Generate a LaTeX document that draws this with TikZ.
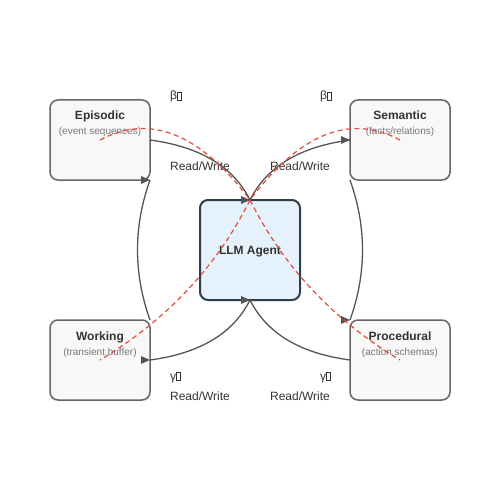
\documentclass[tikz,border=0pt]{standalone}
\usepackage{fontspec}
\setmainfont{Liberation Sans}
\usetikzlibrary{calc}
\definecolor{membd}{HTML}{666666}
\definecolor{memfill}{HTML}{F8F8F8}
\definecolor{agbd}{HTML}{2C3E50}
\definecolor{agfill}{HTML}{E6F2FB}
\definecolor{conncol}{HTML}{555555}
\definecolor{dashcol}{HTML}{E74C3C}
\definecolor{txtcol}{HTML}{333333}
\definecolor{subcol}{HTML}{777777}
\newcommand\mytofu{{\fboxsep0pt\fboxrule0.45pt\fbox{\rule{0pt}{7.2pt}\hspace{3.6pt}}}}
\newcommand\rtip[1]{\fill[conncol,shift={(#1)}] (-9,-4) -- (0,0) -- (-9,4) -- cycle;}
\begin{document}
\begin{tikzpicture}[x=1pt,y=-1pt,
  mem/.style={draw=membd,fill=memfill,line width=1.5pt,rounded corners=8pt,
    minimum width=100pt,minimum height=80pt,outer sep=0pt,inner sep=0pt},
  agent/.style={draw=agbd,fill=agfill,line width=2pt,rounded corners=8pt,
    minimum width=100pt,minimum height=100pt,outer sep=0pt,inner sep=0pt},
  ttl/.style={text=txtcol,font=\bfseries\fontsize{12}{14}\selectfont,inner sep=0pt,anchor=base},
  sub/.style={text=subcol,font=\fontsize{10}{12}\selectfont,inner sep=0pt,anchor=base},
  lbl/.style={text=txtcol,font=\fontsize{12}{14}\selectfont,inner sep=0pt,anchor=base},
  greek/.style={lbl,anchor=base west},
  conn/.style={draw=conncol,line width=1.3pt},
  infl/.style={draw=dashcol,line width=1.2pt,dash pattern=on 5pt off 3.5pt}]
\useasboundingbox[fill=white] (0,0) rectangle (500,500);
% nodes
\node[mem] (epi) at (100,140) {};
\node[mem] (sem) at (400,140) {};
\node[mem] (work) at (100,360) {};
\node[mem] (proc) at (400,360) {};
\node[agent] (agent) at (250,250) {};
\node[ttl] (epiT) at (100,120) {Episodic};
\node[sub] (epiS) at (100,135) {(event sequences)};
\node[ttl] (semT) at (400,120) {Semantic};
\node[sub] (semS) at (400,135) {(facts/relations)};
\node[ttl] (workT) at (100,340) {Working};
\node[sub] (workS) at (100,355) {(transient buffer)};
\node[ttl] (procT) at (400,340) {Procedural};
\node[sub] (procS) at (400,355) {(action schemas)};
\node[ttl] (agT) at (250,254) {LLM Agent};
% labels
\node[greek] (b1) at (170,100) {β\mytofu};
\node[greek] (b2) at (320,100) {β\mytofu};
\node[greek] (g1) at (170,380) {γ\mytofu};
\node[greek] (g2) at (320,380) {γ\mytofu};
\node[lbl] (rw1) at (200,170) {Read/Write};
\node[lbl] (rw2) at (300,170) {Read/Write};
\node[lbl] (rw3) at (200,400) {Read/Write};
\node[lbl] (rw4) at (300,400) {Read/Write};
% connectors (quadratic curves)
\draw[conn] (epi.east) .. controls ($(epi.east)!0.6667!(225,150)$) and ($(agent.north)!0.6667!(225,150)$) .. (agent.north);
\draw[conn] (agent.north) .. controls ($(agent.north)!0.6667!(275,150)$) and ($(sem.west)!0.6667!(275,150)$) .. (sem.west);
\draw[conn] (sem.south west) .. controls ($(sem.south west)!0.6667!(375,250)$) and ($(proc.north west)!0.6667!(375,250)$) .. (proc.north west);
\draw[conn] (proc.west) .. controls ($(proc.west)!0.6667!(275,350)$) and ($(agent.south)!0.6667!(275,350)$) .. (agent.south);
\draw[conn] (agent.south) .. controls ($(agent.south)!0.6667!(225,350)$) and ($(work.east)!0.6667!(225,350)$) .. (work.east);
\draw[conn] (work.north east) .. controls ($(work.north east)!0.6667!(125,250)$) and ($(epi.south east)!0.6667!(125,250)$) .. (epi.south east);
\rtip{agent.north}
\rtip{sem.west}
\rtip{proc.north west}
\rtip{agent.south}
\rtip{work.east}
\rtip{epi.south east}
% influence curves
\draw[infl] (epi.center) .. controls ($(epi.center)!0.6667!(175,100)$) and ($(agent.north)!0.6667!(175,100)$) .. (agent.north);
\draw[infl] (sem.center) .. controls ($(sem.center)!0.6667!(325,100)$) and ($(agent.north)!0.6667!(325,100)$) .. (agent.north);
\draw[infl] (agent.north) .. controls ($(agent.north)!0.6667!(300,300)$) and ($(proc.center)!0.6667!(300,300)$) .. (proc.center);
\draw[infl] (agent.north) .. controls ($(agent.north)!0.6667!(200,300)$) and ($(work.center)!0.6667!(200,300)$) .. (work.center);
\end{tikzpicture}
\end{document}
